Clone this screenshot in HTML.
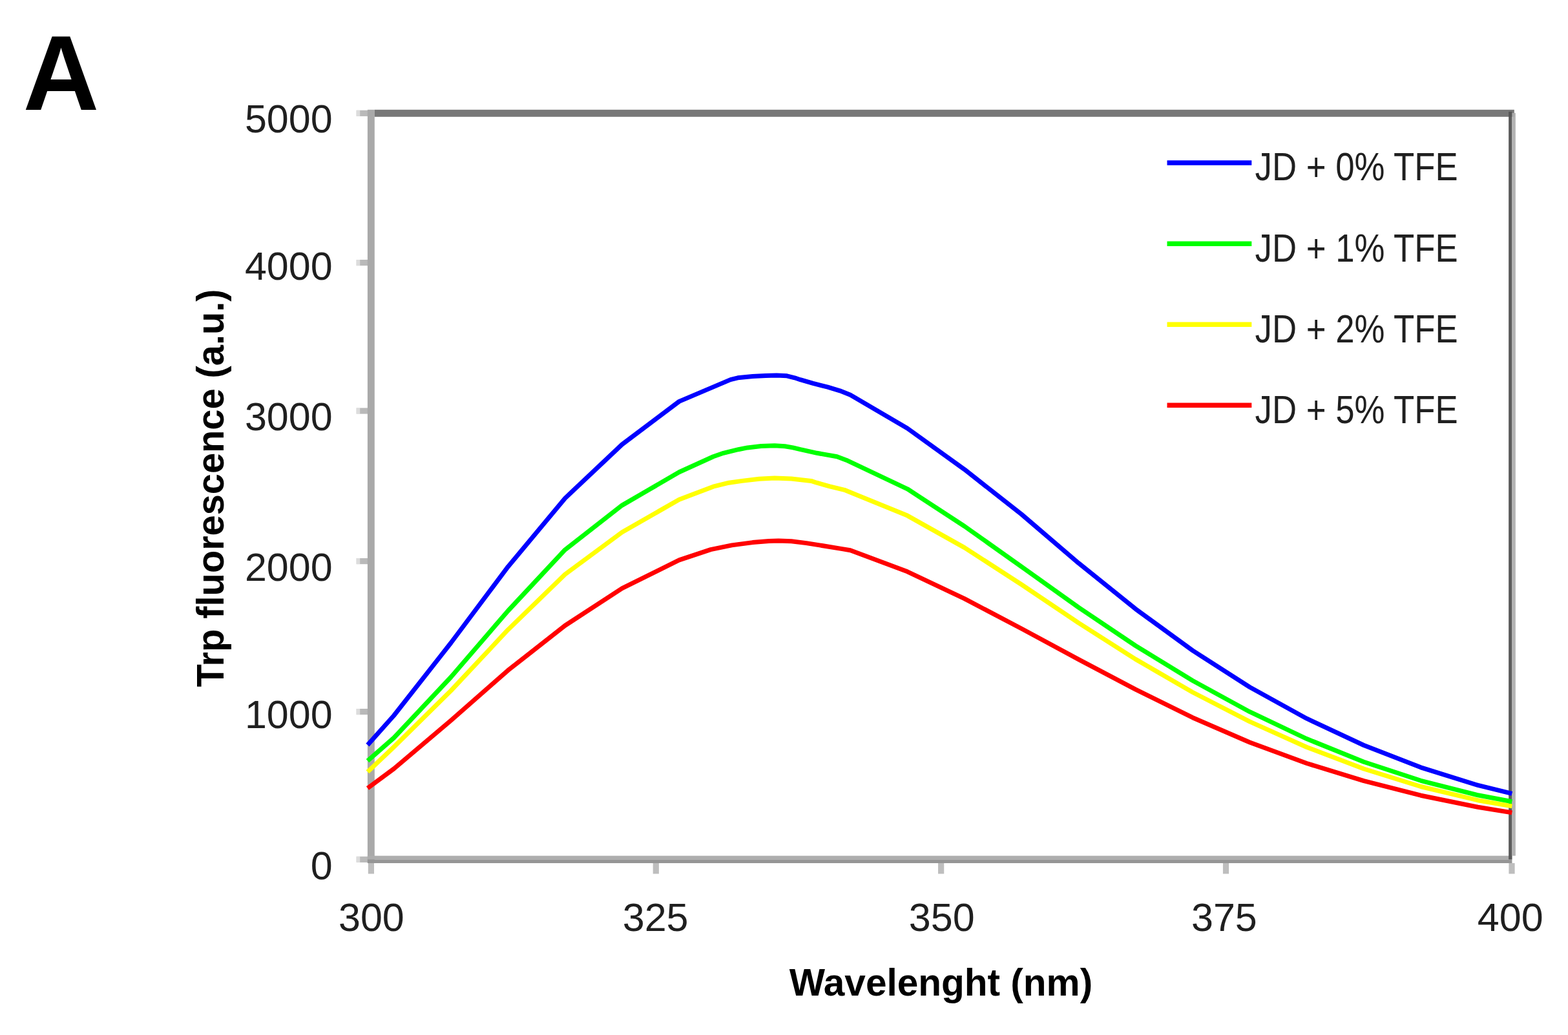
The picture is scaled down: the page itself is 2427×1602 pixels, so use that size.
<!DOCTYPE html>
<html lang="en"><head><meta charset="utf-8"><title>Trp fluorescence</title>
<style>html,body{margin:0;padding:0;background:#fff;}body{width:2427px;height:1602px;overflow:hidden;}svg{display:block;}text{font-family:"Liberation Sans",sans-serif;}</style>
</head><body>
<svg xmlns="http://www.w3.org/2000/svg" width="2427" height="1602" viewBox="0 0 2427 1602">
<rect width="2427" height="1602" fill="#fff"/>
<text x="35.8" y="170" font-size="165" font-weight="bold" fill="#000" textLength="117.5" lengthAdjust="spacingAndGlyphs">A</text>
<rect x="551.6" y="170.7" width="17.4" height="9.2" fill="#b9b9b9"/>
<rect x="551.6" y="170.7" width="5.6" height="9.2" fill="#fff" opacity="0.5"/>
<rect x="551.6" y="402.0" width="17.4" height="9.2" fill="#b9b9b9"/>
<rect x="551.6" y="402.0" width="5.6" height="9.2" fill="#fff" opacity="0.5"/>
<rect x="551.6" y="631.4" width="17.4" height="9.2" fill="#b9b9b9"/>
<rect x="551.6" y="631.4" width="5.6" height="9.2" fill="#fff" opacity="0.5"/>
<rect x="551.6" y="864.0" width="17.4" height="9.2" fill="#b9b9b9"/>
<rect x="551.6" y="864.0" width="5.6" height="9.2" fill="#fff" opacity="0.5"/>
<rect x="551.6" y="1097.0" width="17.4" height="9.2" fill="#b9b9b9"/>
<rect x="551.6" y="1097.0" width="5.6" height="9.2" fill="#fff" opacity="0.5"/>
<rect x="551.6" y="1325.7" width="17.4" height="9.2" fill="#b9b9b9"/>
<rect x="551.6" y="1325.7" width="5.6" height="9.2" fill="#fff" opacity="0.5"/>
<rect x="569.8" y="1335.9" width="9.2" height="16.6" fill="#bebebe"/>
<rect x="1010.7" y="1335.9" width="9.2" height="16.6" fill="#bebebe"/>
<rect x="1452.0" y="1335.9" width="9.2" height="16.6" fill="#bebebe"/>
<rect x="1892.9" y="1335.9" width="9.2" height="16.6" fill="#bebebe"/>
<rect x="2335.4" y="1335.9" width="9.2" height="16.6" fill="#bebebe"/>
<rect x="568.9" y="169.8" width="10.9" height="1166.2" fill="#a2a2a2" opacity="0.92"/>
<rect x="568.9" y="1324.6" width="1771.5" height="5.7" fill="#adadad"/>
<rect x="568.9" y="1330.3" width="1771.5" height="5.7" fill="#959595"/>
<rect x="579.8" y="169.8" width="1764.0" height="11.0" fill="#787878"/>
<rect x="2335.1" y="172.8" width="5.3" height="1157.5" fill="#545454" opacity="0.96"/>
<rect x="2340.4" y="174.8" width="5.4" height="1149.8" fill="#adadad" opacity="0.92"/>
<g fill="none" stroke-width="7" stroke-linejoin="round" stroke-linecap="butt">
<path d="M569.0,1220.0 L609.7,1189.9 L698.0,1115.1 L786.3,1037.6 L874.6,968.3 L962.9,910.6 L1051.2,866.9 L1100.0,850.6 L1132.8,843.9 L1165.0,839.6 L1190.0,837.6 L1205.0,837.1 L1225.0,837.8 L1248.0,840.6 L1268.6,843.9 L1303.5,849.6 L1316.2,851.8 L1404.5,884.8 L1492.8,926.7 L1581.1,973.0 L1669.4,1020.6 L1757.7,1067.2 L1846.0,1110.7 L1934.3,1149.0 L2022.6,1181.5 L2110.9,1208.7 L2199.2,1231.2 L2287.5,1249.2 L2340.3,1257.9" stroke="#ff0000"/>
<path d="M569.0,1194.7 L609.7,1156.1 L698.0,1069.0 L786.3,974.7 L874.6,889.0 L962.9,823.8 L1051.2,773.2 L1104.0,753.2 L1128.3,747.2 L1148.5,744.4 L1175.0,741.2 L1199.0,739.9 L1225.0,741.0 L1255.6,744.4 L1264.1,747.2 L1284.3,752.8 L1307.0,758.3 L1404.5,798.1 L1492.8,847.6 L1581.1,904.7 L1669.4,964.1 L1757.7,1020.4 L1846.0,1071.5 L1934.3,1116.9 L2022.6,1156.5 L2110.9,1190.0 L2199.2,1217.5 L2287.5,1238.7 L2340.3,1247.9" stroke="#ffff00"/>
<path d="M569.0,1177.6 L609.7,1142.0 L698.0,1048.0 L786.3,945.5 L874.6,850.9 L962.9,782.1 L1051.2,730.8 L1104.0,706.8 L1119.7,701.3 L1142.9,695.7 L1157.0,692.9 L1178.0,690.6 L1199.0,689.8 L1215.0,690.8 L1227.3,692.9 L1238.9,695.7 L1264.6,701.3 L1295.5,706.8 L1310.0,712.2 L1404.5,756.8 L1492.8,814.5 L1581.1,877.1 L1669.4,940.2 L1757.7,999.5 L1846.0,1053.5 L1934.3,1101.7 L2022.6,1143.6 L2110.9,1179.2 L2199.2,1208.3 L2287.5,1230.8 L2340.3,1240.7" stroke="#00ff00"/>
<path d="M569.0,1153.2 L609.7,1107.5 L698.0,995.0 L786.3,877.2 L874.6,771.2 L962.9,687.9 L1051.2,621.4 L1130.7,587.6 L1142.0,584.8 L1165.0,582.6 L1185.0,581.4 L1202.0,580.9 L1218.0,581.8 L1230.0,584.8 L1238.7,587.7 L1258.5,593.4 L1281.2,599.1 L1300.0,604.8 L1316.2,611.3 L1404.5,663.0 L1492.8,726.6 L1581.1,796.0 L1669.4,871.6 L1757.7,942.6 L1846.0,1006.9 L1934.3,1063.5 L2022.6,1112.2 L2110.9,1153.5 L2199.2,1187.8 L2287.5,1215.4 L2340.3,1228.4" stroke="#0000ff"/>
</g>
<text x="514.6" y="205.0" font-size="61" fill="#1f1f1f" text-anchor="end">5000</text>
<text x="514.6" y="433.0" font-size="61" fill="#1f1f1f" text-anchor="end">4000</text>
<text x="514.6" y="666.3" font-size="61" fill="#1f1f1f" text-anchor="end">3000</text>
<text x="514.6" y="899.0" font-size="61" fill="#1f1f1f" text-anchor="end">2000</text>
<text x="514.6" y="1127.3" font-size="61" fill="#1f1f1f" text-anchor="end">1000</text>
<text x="514.6" y="1360.7" font-size="61" fill="#1f1f1f" text-anchor="end">0</text>
<text x="574.9" y="1440.7" font-size="61" fill="#1f1f1f" text-anchor="middle">300</text>
<text x="1014.6" y="1440.7" font-size="61" fill="#1f1f1f" text-anchor="middle">325</text>
<text x="1457.7" y="1440.7" font-size="61" fill="#1f1f1f" text-anchor="middle">350</text>
<text x="1894.9" y="1440.7" font-size="61" fill="#1f1f1f" text-anchor="middle">375</text>
<text x="2337.7" y="1440.7" font-size="61" fill="#1f1f1f" text-anchor="middle">400</text>
<text x="1221.7" y="1541" font-size="59" font-weight="bold" fill="#000" textLength="469.5" lengthAdjust="spacingAndGlyphs">Wavelenght (nm)</text>
<text transform="translate(346,1063.5) rotate(-90)" font-size="59" font-weight="bold" fill="#000" textLength="616" lengthAdjust="spacingAndGlyphs">Trp fluorescence (a.u.)</text>
<line x1="1806.5" y1="252.0" x2="1937.3" y2="252.0" stroke="#0000ff" stroke-width="7.5"/>
<text x="1942.6" y="279.4" font-size="61" fill="#1f1f1f" textLength="314.1" lengthAdjust="spacingAndGlyphs">JD + 0% TFE</text>
<line x1="1806.5" y1="377.2" x2="1937.3" y2="377.2" stroke="#00ff00" stroke-width="7.5"/>
<text x="1942.6" y="404.6" font-size="61" fill="#1f1f1f" textLength="314.1" lengthAdjust="spacingAndGlyphs">JD + 1% TFE</text>
<line x1="1806.5" y1="502.2" x2="1937.3" y2="502.2" stroke="#ffff00" stroke-width="7.5"/>
<text x="1942.6" y="529.6" font-size="61" fill="#1f1f1f" textLength="314.1" lengthAdjust="spacingAndGlyphs">JD + 2% TFE</text>
<line x1="1806.5" y1="627.2" x2="1937.3" y2="627.2" stroke="#ff0000" stroke-width="7.5"/>
<text x="1942.6" y="654.6" font-size="61" fill="#1f1f1f" textLength="314.1" lengthAdjust="spacingAndGlyphs">JD + 5% TFE</text>
</svg></body></html>
